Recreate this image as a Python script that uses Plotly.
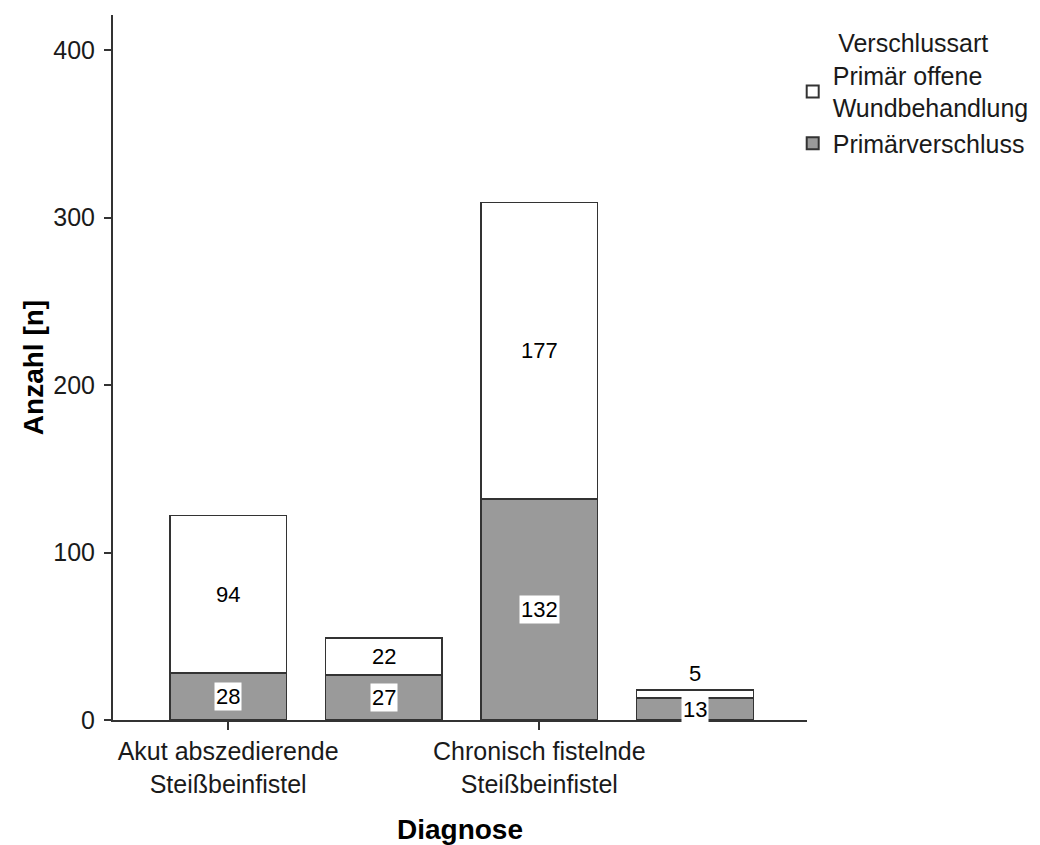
import plotly.graph_objects as go

categories = ["Akut abszedierende Steißbeinfistel", "Gruppe 2",
              "Chronisch fistelnde Steißbeinfistel", "Gruppe 4"]
tick_labels = ["Akut abszedierende<br>Steißbeinfistel", "",
               "Chronisch fistelnde<br>Steißbeinfistel", ""]
primaerverschluss = [28, 27, 132, 13]
offene_wundbehandlung = [94, 22, 177, 5]
y_ticks = [0, 100, 200, 300, 400]

FONT = "Liberation Sans, Arial, sans-serif"
EDGE = "#333333"
GRAY = "#9a9a9a"
TXT = "#1a1a1a"

fig = go.Figure()
fig.add_trace(go.Bar(
    x=categories, y=primaerverschluss, name="Primärverschluss",
    marker=dict(color=GRAY, line=dict(color=EDGE, width=1.5)),
    width=0.75, hoverinfo="x+y"))
fig.add_trace(go.Bar(
    x=categories, y=offene_wundbehandlung, name="Primär offene<br>Wundbehandlung",
    marker=dict(color="white", line=dict(color=EDGE, width=1.5)),
    width=0.75, hoverinfo="x+y"))

annotations = []
for c, g, w in zip(categories, primaerverschluss, offene_wundbehandlung):
    annotations.append(dict(x=c, y=g / 2, text=str(g), showarrow=False,
                            bgcolor="white", borderpad=1,
                            font=dict(family=FONT, size=22, color="black")))
    if w >= 15:
        annotations.append(dict(x=c, y=g + w / 2, text=str(w), showarrow=False,
                                font=dict(family=FONT, size=22, color="black")))
    else:
        annotations.append(dict(x=c, y=g + w, text=str(w), showarrow=False,
                                yanchor="bottom", yshift=2,
                                font=dict(family=FONT, size=22, color="black")))

fig.update_layout(
    width=1032, height=837,
    barmode="stack", bargap=0.25,
    plot_bgcolor="white", paper_bgcolor="white",
    margin=dict(l=105, r=232, t=7, b=125),
    font=dict(family=FONT, size=22, color=TXT),
    annotations=annotations,
    legend=dict(
        traceorder="reversed",
        x=0.978, xanchor="left", y=0.993, yanchor="top",
        font=dict(family=FONT, size=25, color=TXT),
        title=dict(text="Verschlussart", side="top center",
                   font=dict(family=FONT, size=25, color=TXT)),
        itemsizing="constant", tracegroupgap=0,
    ),
    xaxis=dict(
        type="category", range=[-0.74, 3.72],
        tickmode="array", tickvals=[categories[0], categories[2]],
        ticktext=[tick_labels[0], tick_labels[2]],
        ticks="outside", ticklen=8, tickwidth=2, tickcolor=EDGE,
        showline=True, linecolor=EDGE, linewidth=2,
        showgrid=False, zeroline=False, automargin=False,
        tickfont=dict(family=FONT, size=25, color=TXT),
        title=dict(text="<b>Diagnose</b>", standoff=24,
                   font=dict(family=FONT, size=28, color="black")),
    ),
    yaxis=dict(
        range=[0, 421], tickmode="array", tickvals=y_ticks,
        ticks="outside", ticklen=7, tickwidth=2, tickcolor=EDGE,
        ticklabelstandoff=4,
        showline=True, linecolor=EDGE, linewidth=2,
        showgrid=False, zeroline=False, automargin=False,
        tickfont=dict(family=FONT, size=25, color=TXT),
        title=dict(text="<b>Anzahl [n]</b>", standoff=1,
                   font=dict(family=FONT, size=28, color="black")),
    ),
)

fig.write_html("out.html")
